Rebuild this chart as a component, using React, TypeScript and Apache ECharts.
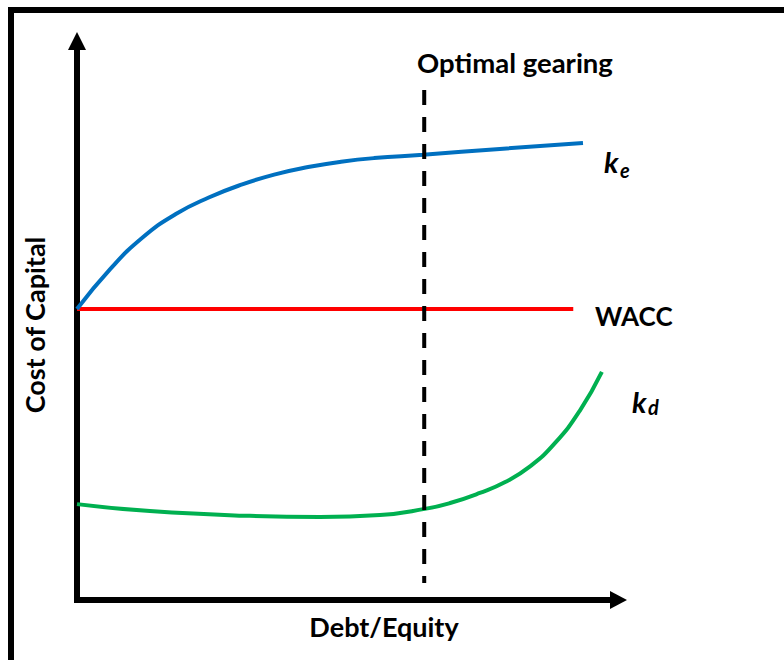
import React, { useEffect, useRef } from "react";
import * as echarts from "echarts";

// Debt/Equity (x) vs Cost of Capital (y)
const keData: [number, number][] = [
  [0, 10.41], [0.61, 11.83], [1.22, 12.98], [1.83, 13.81], [2.44, 14.4],
  [3.06, 14.87], [3.67, 15.23], [4.28, 15.49], [4.89, 15.68], [5.5, 15.81],
  [6.41, 15.93], [7.83, 16.14], [9.37, 16.35],
];
const waccData: [number, number][] = [
  [0, 10.41], [9.19, 10.41],
];
const kdData: [number, number][] = [
  [0, 3.43], [1.35, 3.18], [3.2, 3.01], [4.5, 2.97], [5.61, 3.04],
  [6.44, 3.26], [6.91, 3.47], [7.46, 3.83], [7.93, 4.22], [8.39, 4.78],
  [8.85, 5.61], [9.31, 6.77], [9.72, 8.16],
];
const optimalGearingX = 6.43;
const optimalLineRange: [number, number] = [18.25, 0.61];

const xAxisTitle = "Debt/Equity";
const yAxisTitle = "Cost of Capital";
const optimalLabel = "Optimal gearing";
const waccLabel = "WACC";

const FONT = "Lato";

export default function App() {
  const ref = useRef<HTMLDivElement>(null);
  useEffect(() => {
    if (!ref.current) return;
    const chart = echarts.init(ref.current, null, { renderer: "svg" });
    const txt = (
      x: number, y: number, text: string, size: number,
      align: string, extra: any = {}
    ) => ({
      type: "text", x, y, z: 100, ...extra,
      style: {
        text, fill: "#000", fontFamily: FONT, fontWeight: "bold",
        fontSize: size, align, verticalAlign: "middle",
        ...(extra.style || {}),
      },
    });
    chart.setOption({
      animation: false,
      backgroundColor: "#fff",
      grid: { left: 77, width: 540, top: 41, bottom: 60, containLabel: false, outerBoundsMode: "none" },
      xAxis: {
        type: "value", min: 0, max: 10,
        axisLine: {
          show: true, symbol: ["none", "triangle"], symbolSize: [18, 17], symbolOffset: [0, 1.5],
          lineStyle: { color: "#000", width: 6 },
        },
        axisTick: { show: false }, axisLabel: { show: false }, splitLine: { show: false },
      },
      yAxis: {
        type: "value", min: 0, max: 20,
        axisLine: {
          show: true, symbol: ["none", "triangle"], symbolSize: [18, 18],
          lineStyle: { color: "#000", width: 6 },
        },
        axisTick: { show: false }, axisLabel: { show: false }, splitLine: { show: false },
      },
      series: [
        {
          name: "WACC", type: "line", data: waccData, showSymbol: false,
          lineStyle: { color: "#FF0000", width: 4 }, z: 3,
        },
        {
          name: "ke", type: "line", data: keData, showSymbol: false, smooth: 0.5,
          lineStyle: { color: "#0070C0", width: 4 }, z: 4,
        },
        {
          name: "kd", type: "line", data: kdData, showSymbol: false, smooth: 0.5,
          lineStyle: { color: "#00B050", width: 4 }, z: 4,
        },
        {
          name: "Optimal gearing", type: "line",
          data: [[optimalGearingX, optimalLineRange[0]], [optimalGearingX, optimalLineRange[1]]],
          showSymbol: false,
          lineStyle: { color: "#000", width: 4, type: [15, 12] }, z: 5,
        },
      ],
      graphic: [
        {
          type: "rect", z: 100,
          shape: { x: 11, y: 10, width: 900, height: 800 },
          style: { fill: "none", stroke: "#000", lineWidth: 6 },
        },
        { type: "rect", z: 100, shape: { x: 74, y: 597, width: 6, height: 6 }, style: { fill: "#000" } },
        txt(515, 62, optimalLabel, 27.5, "center"),
        txt(384, 626, xAxisTitle, 27, "center"),
        txt(595, 316, waccLabel, 26, "left"),
        txt(34, 325, yAxisTitle, 27, "center", { rotation: Math.PI / 2 }),
        txt(604, 161, "k", 29, "left", { style: { fontStyle: "italic" } }),
        txt(620, 170, "e", 20, "left", { style: { fontStyle: "italic" } }),
        txt(632, 401, "k", 29, "left", { style: { fontStyle: "italic" } }),
        txt(648, 407, "d", 20, "left", { style: { fontStyle: "italic" } }),
      ],
    });
    return () => chart.dispose();
  }, []);
  return (
    <div
      ref={ref}
      style={{ position: "absolute", left: 0, top: 0, width: 784, height: 660 }}
    />
  );
}
